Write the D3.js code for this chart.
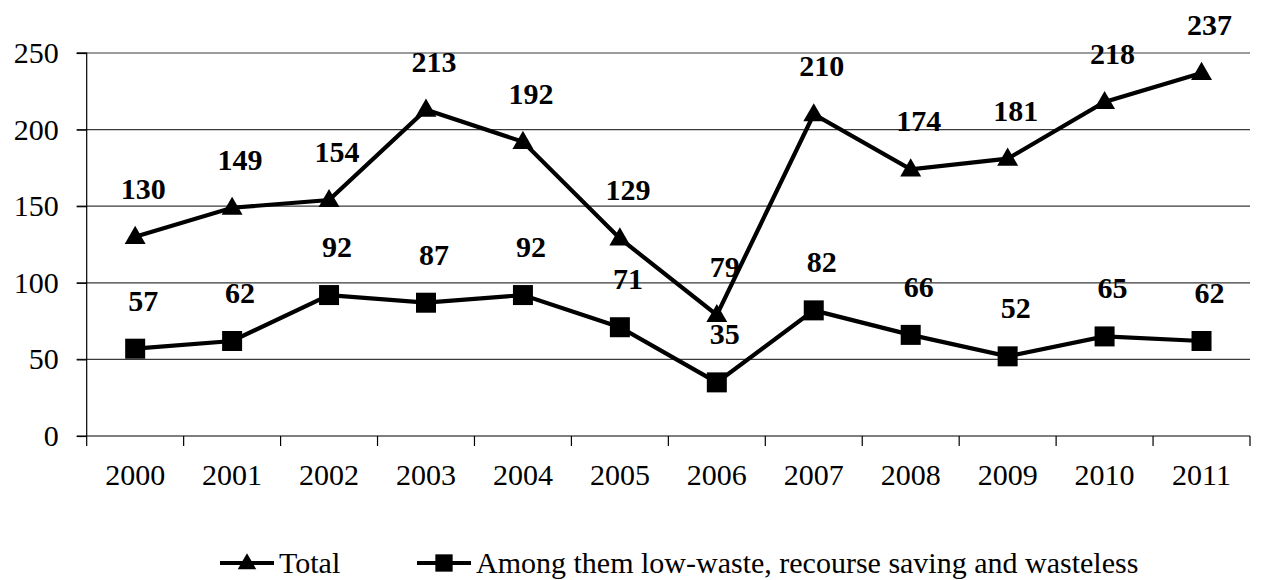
<!DOCTYPE html>
<html>
<head>
<meta charset="utf-8">
<script src="https://cdn.jsdelivr.net/npm/d3@7"></script>
<style>
  svg text { font-family: 'Liberation Serif', 'Times New Roman', Times, serif !important; }
</style>
</head>
<body style="margin:0">
<svg id="chart" width="1262" height="580" style="font-family:'Liberation Serif'"></svg>
<script>
const years = ["2000","2001","2002","2003","2004","2005","2006","2007","2008","2009","2010","2011"];
const totalValues = [130,149,154,213,192,129,79,210,174,181,218,237];
const lowWasteValues = [57,62,92,87,92,71,35,82,66,52,65,62];
const yTicks = [0,50,100,150,200,250];
const seriesNames = ["Total", "Among them low-waste, recourse saving and wasteless"];

const FONT = "'Liberation Serif'";
// warm the font cache
const ctx0 = document.createElement("canvas").getContext("2d");
ctx0.font = "30px 'Liberation Serif', monospace"; ctx0.measureText("Among 2000");
ctx0.font = "bold 30px 'Liberation Serif', monospace"; ctx0.measureText("237");

const svg = d3.select("#chart");
const pLeft = 86.7, pRight = 1250, pTop = 53, pBottom = 436;

const x = d3.scaleBand().domain(years).range([pLeft, pRight]).padding(0);
const y = d3.scaleLinear().domain([0, 250]).range([pBottom, pTop]);
const cx = d => x(d) + x.bandwidth() / 2;

function txt(sel) {
  return sel.attr("font-family", "Liberation Serif").style("font-family", FONT).attr("font-size", 30);
}

svg.append("g").selectAll("line").data(yTicks.filter(d => d > 0)).join("line")
  .attr("x1", pLeft - 10).attr("x2", pRight)
  .attr("y1", d => y(d)).attr("y2", d => y(d))
  .attr("stroke", "#3a3a3a").attr("stroke-width", 1.2);

const gy = svg.append("g").attr("transform", `translate(${pLeft},0)`)
  .call(d3.axisLeft(y).tickValues(yTicks).tickSize(10).tickFormat(""));
gy.select(".domain").attr("stroke", "#000").attr("stroke-width", 1.2).attr("d", `M-10,${pTop}H0V${pBottom}`);
gy.selectAll(".tick line").attr("stroke", "#000").attr("stroke-width", 1.2);
yTicks.forEach(t => {
  txt(svg.append("text")).attr("x", pLeft - 28).attr("y", y(t) + 10)
    .attr("text-anchor", "end").text(String(t));
});

svg.append("line").attr("x1", pLeft - 10).attr("x2", pRight).attr("y1", pBottom).attr("y2", pBottom)
  .attr("stroke", "#000").attr("stroke-width", 1.2);
const bounds = years.map(d => x(d)).concat([x(years[years.length - 1]) + x.bandwidth()]);
bounds.forEach(b => {
  svg.append("line").attr("x1", b).attr("x2", b).attr("y1", pBottom).attr("y2", pBottom + 10)
    .attr("stroke", "#000").attr("stroke-width", 1.2);
});
years.forEach(yr => {
  txt(svg.append("text")).attr("x", cx(yr)).attr("y", pBottom + 49)
    .attr("text-anchor", "middle").text(yr);
});

const line = d3.line().x(d => cx(d.year)).y(d => y(d.v));
const totalData = years.map((yr, i) => ({ year: yr, v: totalValues[i] }));
const lowData = years.map((yr, i) => ({ year: yr, v: lowWasteValues[i] }));

const tri = d3.symbol().type(d3.symbolTriangle).size(190);
const sq = d3.symbol().type(d3.symbolSquare).size(400);

function drawSeries(data, symbolGen, symDy) {
  svg.append("path").datum(data).attr("d", line)
    .attr("fill", "none").attr("stroke", "#000").attr("stroke-width", 4.2);
  data.forEach(d => {
    svg.append("path").attr("d", symbolGen())
      .attr("transform", `translate(${cx(d.year)},${y(d.v) + symDy})`)
      .attr("fill", "#000");
  });
}
drawSeries(totalData, tri, 1);
drawSeries(lowData, sq, 0);

function drawLabels(data) {
  data.forEach(d => {
    txt(svg.append("text")).attr("x", cx(d.year) + 8).attr("y", y(d.v) - 38)
      .attr("text-anchor", "middle").attr("font-weight", "bold").text(String(d.v));
  });
}
drawLabels(totalData);
drawLabels(lowData);

const legendItems = [
  { name: seriesNames[0], tri: true, x0: 220, dy: 1 },
  { name: seriesNames[1], tri: false, x0: 417, dy: 0 }
];
legendItems.forEach(it => {
  svg.append("line").attr("x1", it.x0).attr("x2", it.x0 + 54).attr("y1", 563).attr("y2", 563)
    .attr("stroke", "#000").attr("stroke-width", 4.2);
  svg.append("path").attr("d", it.tri ? d3.symbol().type(d3.symbolTriangle).size(150)() : d3.symbol().type(d3.symbolSquare).size(300)())
    .attr("transform", `translate(${it.x0 + 27},${563 + it.dy})`).attr("fill", "#000");
  txt(svg.append("text")).attr("x", it.x0 + 59).attr("y", 573).text(it.name);
});
</script>
</body>
</html>
